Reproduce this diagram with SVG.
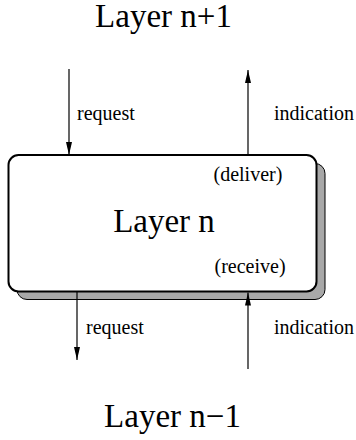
<svg xmlns="http://www.w3.org/2000/svg" width="356" height="440" viewBox="0 0 356 440">
<style>
text{font-family:"Liberation Serif","Times New Roman",serif;fill:#000}
.big{font-size:33px;text-anchor:middle}
.small{font-size:20px}
.line{stroke:#000;stroke-width:1.2;fill:none}
</style>
<defs>
<marker id="ah" viewBox="0 0 13 6" refX="13" refY="3" markerWidth="13" markerHeight="6" markerUnits="userSpaceOnUse" orient="auto">
<path d="M0,0 L13,3 L0,6 Z" fill="#000"/>
</marker>
</defs>
<rect width="356" height="440" fill="#fff"/>
<g id="layer-n1-label"><text class="big" x="163.5" y="27">Layer n+1</text></g>
<g id="layer-n">
<rect x="17" y="163.5" width="308" height="136" rx="10" fill="#a8a8a8" stroke="#000" stroke-width="1"/>
<rect x="8.5" y="155" width="308" height="136.5" rx="10" fill="#fff" stroke="#000" stroke-width="2"/>
<text class="big" x="164" y="232">Layer n</text>
<text class="small" x="213.5" y="181">(deliver)</text>
<text class="small" x="214.5" y="273">(receive)</text>
</g>
<g id="layer-nm1-label"><text class="big" x="172.5" y="427">Layer n−1</text></g>
<g id="connectors">
<line class="line" x1="69" y1="69" x2="69" y2="155" marker-end="url(#ah)"/>
<line class="line" x1="248" y1="155" x2="248" y2="70" marker-end="url(#ah)"/>
<line class="line" x1="77" y1="292" x2="77" y2="360" marker-end="url(#ah)"/>
<line class="line" x1="248" y1="369" x2="248" y2="292.5" marker-end="url(#ah)"/>
<text class="small" x="77" y="120">request</text>
<text class="small" x="274" y="120">indication</text>
<text class="small" x="86" y="334">request</text>
<text class="small" x="274" y="334">indication</text>
</g>
</svg>
